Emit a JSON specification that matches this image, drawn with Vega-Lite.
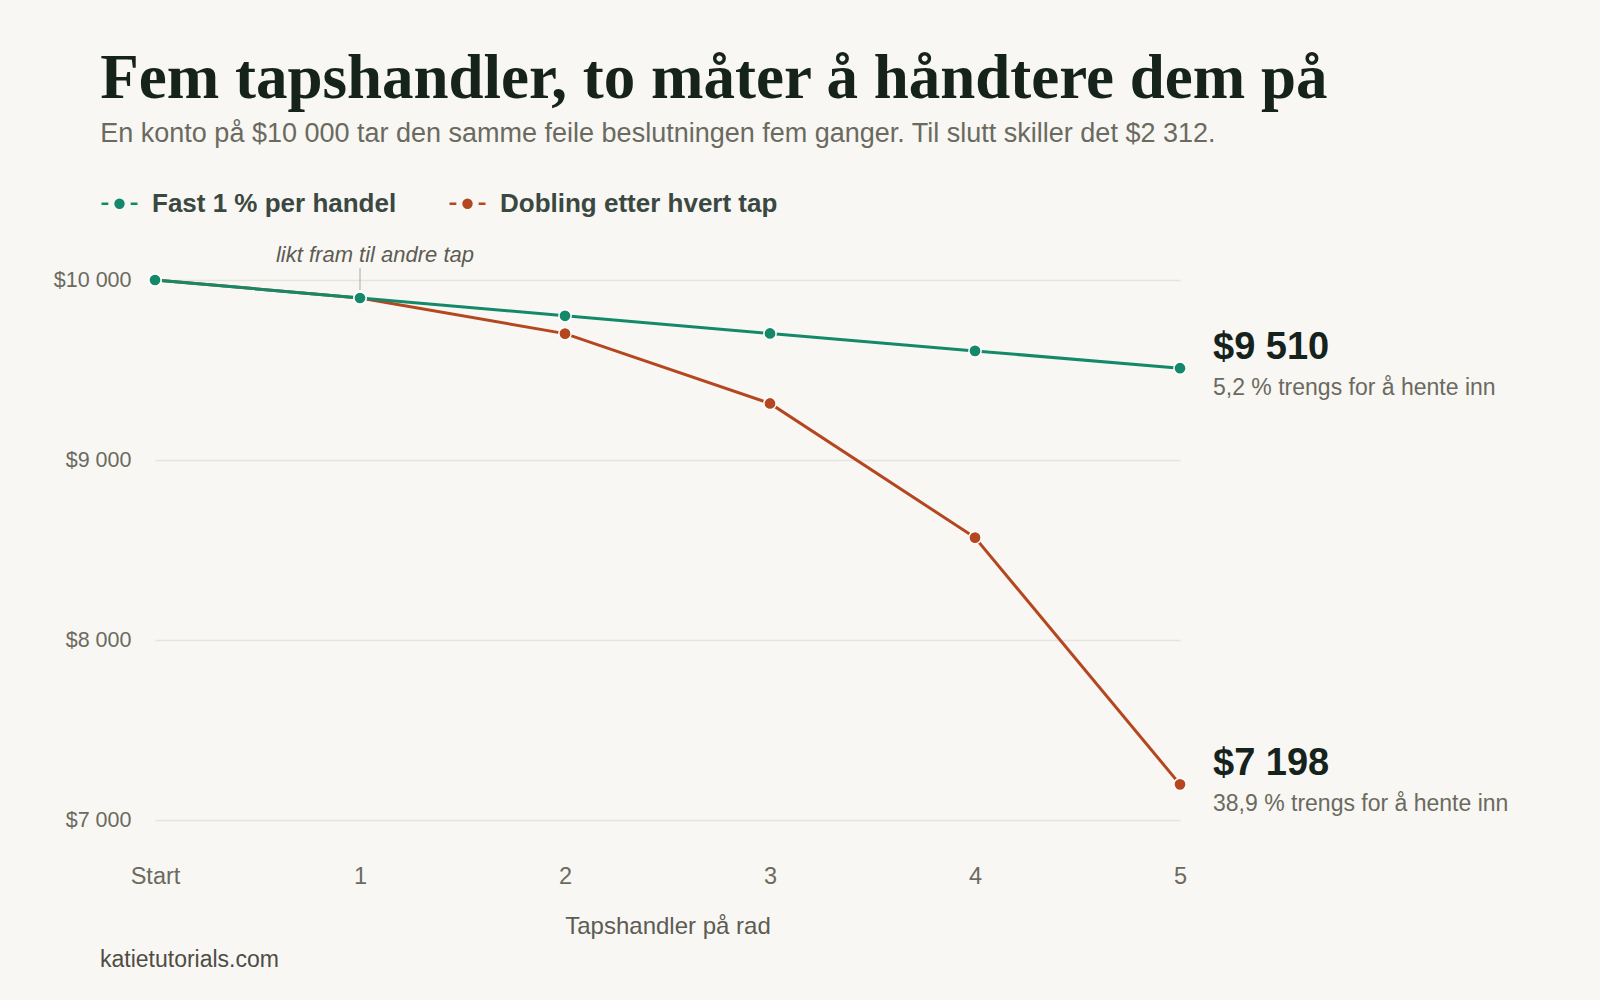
{
  "$schema": "https://vega.github.io/schema/vega-lite/v6.json",
  "background": "#f8f7f3",
  "padding": {"left": 53, "top": 48, "right": 94, "bottom": 28},
  "config": {
    "view": {"stroke": null},
    "locale": {
      "number": {"decimal": ",", "thousands": " ", "grouping": [3], "currency": ["$", ""]}
    },
    "axis": {
      "domain": false,
      "ticks": false,
      "labelFont": "Liberation Sans",
      "labelFontSize": 21.5,
      "labelColor": "#6b6a5f",
      "titleFont": "Liberation Sans",
      "titleFontSize": 24,
      "titleFontWeight": "normal",
      "titleColor": "#5d5c53",
      "gridColor": "#e6e4de",
      "gridWidth": 1.5
    }
  },
  "title": {
    "text": "Fem tapshandler, to måter å håndtere dem på",
    "subtitle": "En konto på $10 000 tar den samme feile beslutningen fem ganger. Til slutt skiller det $2 312.",
    "anchor": "start",
    "frame": "bounds",
    "font": "Liberation Serif",
    "fontSize": 63,
    "fontWeight": "bold",
    "color": "#16221c",
    "subtitleFont": "Liberation Sans",
    "subtitleFontSize": 27,
    "subtitleColor": "#6b6a5f",
    "subtitlePadding": 10,
    "offset": 37,
    "dx": 47
  },
  "datasets": {
    "series": [
      {"trade": 0, "strategy": "Dobling etter hvert tap", "balance": 10000},
      {"trade": 1, "strategy": "Dobling etter hvert tap", "balance": 9900},
      {"trade": 2, "strategy": "Dobling etter hvert tap", "balance": 9702},
      {"trade": 3, "strategy": "Dobling etter hvert tap", "balance": 9314},
      {"trade": 4, "strategy": "Dobling etter hvert tap", "balance": 8569},
      {"trade": 5, "strategy": "Dobling etter hvert tap", "balance": 7198},
      {"trade": 0, "strategy": "Fast 1 % per handel", "balance": 10000},
      {"trade": 1, "strategy": "Fast 1 % per handel", "balance": 9900},
      {"trade": 2, "strategy": "Fast 1 % per handel", "balance": 9801},
      {"trade": 3, "strategy": "Fast 1 % per handel", "balance": 9703},
      {"trade": 4, "strategy": "Fast 1 % per handel", "balance": 9606},
      {"trade": 5, "strategy": "Fast 1 % per handel", "balance": 9510}
    ],
    "ends": [
      {"trade": 5, "strategy": "Fast 1 % per handel", "balance": 9510, "note": "5,2 % trengs for å hente inn"},
      {"trade": 5, "strategy": "Dobling etter hvert tap", "balance": 7198, "note": "38,9 % trengs for å hente inn"}
    ],
    "notes": [
      {"trade": 1, "from": 9944, "to": 10067, "at": 10100, "text": "likt fram til andre tap"}
    ]
  },
  "vconcat": [
    {
      "width": 1025,
      "height": 540,
      "title": {
        "text": "katietutorials.com",
        "orient": "bottom",
        "anchor": "start",
        "frame": "group",
        "font": "Liberation Sans",
        "fontSize": 23,
        "fontWeight": "normal",
        "color": "#4e4d45",
        "offset": 10,
        "dx": -55
      },
      "layer": [
        {
          "data": {"name": "series"},
          "mark": {"type": "line", "strokeWidth": 3},
          "encoding": {
            "x": {
              "field": "trade",
              "type": "quantitative",
              "scale": {"domain": [0, 5], "nice": false},
              "axis": {
                "values": [0, 1, 2, 3, 4, 5],
                "labelExpr": "datum.value == 0 ? 'Start' : '' + datum.value",
                "labelFlush": false,
                "labelFontSize": 23.5,
                "grid": false,
                "labelPadding": 44,
                "titlePadding": 27
              },
              "title": "Tapshandler på rad"
            },
            "y": {
              "field": "balance",
              "type": "quantitative",
              "scale": {"domain": [7000, 10000], "nice": false, "zero": false},
              "axis": {
                "values": [7000, 8000, 9000, 10000],
                "format": "$,.0f",
                "labelPadding": 24
              },
              "title": null
            },
            "color": {
              "field": "strategy",
              "type": "nominal",
              "scale": {
                "domain": ["Fast 1 % per handel", "Dobling etter hvert tap"],
                "range": ["#14896a", "#b4471f"]
              },
              "legend": {
                "orient": "none",
                "legendX": -55,
                "legendY": -96,
                "direction": "horizontal",
                "title": null,
                "labelFont": "Liberation Sans",
                "labelFontSize": 26,
                "labelFontWeight": "bold",
                "labelColor": "#3b4842",
                "labelLimit": 600,
                "labelOffset": 13,
                "columnPadding": 47,
                "symbolType": "M-1,0L-0.62,0M0.62,0L1,0M0.22,0A0.22,0.22,0,1,1,-0.22,0A0.22,0.22,0,1,1,0.22,0Z",
                "symbolSize": 1296,
                "symbolStrokeWidth": 2.5,
                "encode": {
                  "symbols": {
                    "update": {
                      "fill": {"scale": "color", "field": "value"},
                      "stroke": {"scale": "color", "field": "value"},
                      "opacity": {"value": 1}
                    }
                  }
                }
              }
            }
          }
        },
        {
          "data": {"name": "series"},
          "mark": {"type": "point", "filled": true, "size": 150, "opacity": 1, "stroke": "white", "strokeWidth": 1.5},
          "encoding": {
            "x": {"field": "trade", "type": "quantitative"},
            "y": {"field": "balance", "type": "quantitative"},
            "color": {"field": "strategy", "type": "nominal"}
          }
        },
        {
          "data": {"name": "notes"},
          "mark": {"type": "rule", "color": "#aaaaa4", "strokeWidth": 1},
          "encoding": {
            "x": {"field": "trade", "type": "quantitative"},
            "y": {"field": "from", "type": "quantitative"},
            "y2": {"field": "to"}
          }
        },
        {
          "data": {"name": "notes"},
          "mark": {
            "type": "text",
            "font": "Liberation Sans",
            "fontSize": 22,
            "fontStyle": "italic",
            "color": "#5d5c53",
            "align": "center",
            "baseline": "alphabetic",
            "dx": 15
          },
          "encoding": {
            "x": {"field": "trade", "type": "quantitative"},
            "y": {"field": "at", "type": "quantitative"},
            "text": {"field": "text"}
          }
        },
        {
          "data": {"name": "ends"},
          "mark": {
            "type": "text",
            "font": "Liberation Sans",
            "fontSize": 38,
            "fontWeight": "bold",
            "color": "#16221c",
            "align": "left",
            "baseline": "alphabetic",
            "dx": 33,
            "dy": -9
          },
          "encoding": {
            "x": {"field": "trade", "type": "quantitative"},
            "y": {"field": "balance", "type": "quantitative"},
            "text": {"field": "balance", "format": "$,.0f"}
          }
        },
        {
          "data": {"name": "ends"},
          "mark": {
            "type": "text",
            "font": "Liberation Sans",
            "fontSize": 23,
            "color": "#6b6a5f",
            "align": "left",
            "baseline": "alphabetic",
            "dx": 33,
            "dy": 27
          },
          "encoding": {
            "x": {"field": "trade", "type": "quantitative"},
            "y": {"field": "balance", "type": "quantitative"},
            "text": {"field": "note"}
          }
        }
      ]
    }
  ]
}
